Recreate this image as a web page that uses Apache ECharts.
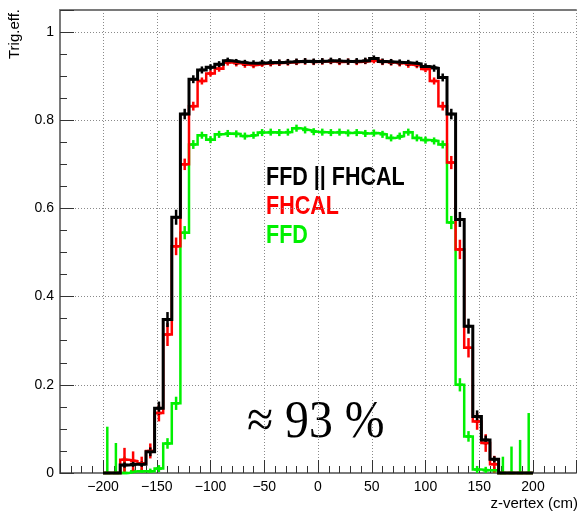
<!DOCTYPE html>
<html>
<head>
<meta charset="utf-8">
<script src="https://cdn.jsdelivr.net/npm/echarts@6/dist/echarts.min.js"></script>
<style>
  html, body { margin: 0; padding: 0; background: #fff; }
  #chart { width: 579px; height: 512px; }
</style>
</head>
<body>
<div id="chart"></div>
<script>
// Trigger efficiency vs z-vertex: 50 bins of 8 cm between -200 and 200 cm
const binLow = -200;
const binWidth = 8;

// FFD || FHCAL
const effOr = [
  0, 0, 0.018, 0.020, 0.020, 0.048, 0.147, 0.348, 0.580, 0.814,
  0.893, 0.914, 0.920, 0.927, 0.935, 0.932, 0.930, 0.929, 0.930, 0.931,
  0.931, 0.932, 0.933, 0.934, 0.933, 0.934, 0.935, 0.934, 0.933, 0.934,
  0.935, 0.940, 0.933, 0.932, 0.931, 0.930, 0.928, 0.922, 0.918, 0.897,
  0.814, 0.575, 0.333, 0.128, 0.075, 0.031, 0, 0, 0, 0
];
const errOr = [
  0, 0, 0.006, 0.006, 0.006, 0.010, 0.015, 0.017, 0.017, 0.012,
  0.009, 0.008, 0.007, 0.007, 0.007, 0.007, 0.007, 0.007, 0.007, 0.007,
  0.007, 0.007, 0.007, 0.007, 0.007, 0.007, 0.007, 0.007, 0.007, 0.007,
  0.007, 0.007, 0.007, 0.007, 0.007, 0.007, 0.007, 0.007, 0.008, 0.009,
  0.012, 0.017, 0.017, 0.014, 0.010, 0.007, 0, 0, 0, 0
];

// FHCAL
const effFhcal = [
  0, 0, 0.030, 0.027, 0.022, 0.050, 0.136, 0.314, 0.514, 0.700,
  0.832, 0.889, 0.906, 0.917, 0.931, 0.929, 0.926, 0.925, 0.928, 0.929,
  0.930, 0.931, 0.932, 0.933, 0.932, 0.933, 0.934, 0.932, 0.933, 0.932,
  0.934, 0.936, 0.932, 0.931, 0.929, 0.926, 0.925, 0.916, 0.889, 0.832,
  0.704, 0.507, 0.284, 0.117, 0.068, 0.020, 0, 0, 0, 0
];
const errFhcal = [
  0, 0, 0.027, 0.022, 0.015, 0.017, 0.019, 0.026, 0.020, 0.013,
  0.010, 0.008, 0.007, 0.007, 0.007, 0.007, 0.007, 0.007, 0.007, 0.007,
  0.007, 0.007, 0.007, 0.007, 0.007, 0.007, 0.007, 0.007, 0.007, 0.007,
  0.007, 0.007, 0.007, 0.007, 0.007, 0.007, 0.007, 0.007, 0.008, 0.010,
  0.015, 0.022, 0.022, 0.019, 0.020, 0.019, 0, 0, 0, 0
];

// FFD
const effFfd = [
  0, 0, 0, 0.004, 0.004, 0.004, 0.010, 0.067, 0.158, 0.545,
  0.745, 0.766, 0.756, 0.768, 0.770, 0.769, 0.764, 0.766, 0.772, 0.773,
  0.772, 0.773, 0.782, 0.778, 0.774, 0.773, 0.772, 0.773, 0.771, 0.772,
  0.770, 0.771, 0.768, 0.760, 0.764, 0.773, 0.760, 0.755, 0.753, 0.745,
  0.568, 0.200, 0.083, 0.008, 0.006, 0.006, 0, 0, 0, 0
];
const errFfd = [
  0.105, 0.068, 0.037, 0.006, 0.006, 0.006, 0.008, 0.012, 0.015, 0.015,
  0.010, 0.008, 0.008, 0.008, 0.008, 0.008, 0.008, 0.008, 0.008, 0.008,
  0.008, 0.008, 0.008, 0.008, 0.008, 0.008, 0.008, 0.008, 0.008, 0.008,
  0.008, 0.008, 0.008, 0.008, 0.008, 0.008, 0.008, 0.008, 0.008, 0.009,
  0.015, 0.015, 0.012, 0.008, 0.008, 0.008, 0.037, 0.060, 0.075, 0.136
];

const legendLabels = ['FFD || FHCAL', 'FHCAL', 'FFD'];
const noteText = '\u2248 93 %';

const colOr = '#000000';
const colFhcal = '#ff0000';
const colFfd = '#00f000';
const crossHalf = 0.35 * binWidth;

// histogram outline: flat segment over every bin, verticals at the edges
function stepPoints(vals) {
  const pts = [];
  vals.forEach(function (v, i) {
    const x0 = binLow + i * binWidth;
    pts.push([x0, v], [x0 + binWidth, v]);
  });
  return pts;
}

function errPoints(vals, errs) {
  return vals.map(function (v, i) {
    return [binLow + (i + 0.5) * binWidth, v, errs[i]];
  });
}

function errRender(color, width) {
  return function (params, api) {
    const c = api.value(0), v = api.value(1), e = api.value(2);
    if (!(e > 0)) return null;
    const top = api.coord([c, v + e]);
    const bot = api.coord([c, Math.max(0, v - e)]);
    const l = api.coord([c - crossHalf, v]);
    const r = api.coord([c + crossHalf, v]);
    const st = { stroke: color, lineWidth: width };
    return {
      type: 'group',
      children: [
        { type: 'line', shape: { x1: top[0], y1: top[1], x2: bot[0], y2: bot[1] }, style: st },
        { type: 'line', shape: { x1: l[0], y1: l[1], x2: r[0], y2: r[1] }, style: st }
      ]
    };
  };
}

function histSeries(vals, color, width) {
  return {
    type: 'line', xAxisIndex: 0, yAxisIndex: 0,
    data: stepPoints(vals), showSymbol: false, clip: false,
    lineStyle: { color: color, width: width, join: 'miter' },
    emphasis: { disabled: true }, animation: false
  };
}

function errSeries(vals, errs, color, width) {
  return {
    type: 'custom', xAxisIndex: 0, yAxisIndex: 0,
    data: errPoints(vals, errs), clip: false,
    encode: { x: 0, y: 1 },
    renderItem: errRender(color, width), animation: false
  };
}

const font = 'Liberation Sans, Arial, Helvetica, sans-serif';
const gridLine = { show: true, lineStyle: { color: '#8a8a8a', width: 1, type: [1, 2] } };
const frameLine = { show: true, onZero: false, lineStyle: { color: '#7a7a7a', width: 2 } };

function fmtX(v) {
  if (Math.abs(v) % 50 !== 0) return '';
  return v < 0 ? '\u2212' + (-v) : String(v);
}
function fmtY(v) {
  const r = Math.round(v * 100) / 100;
  if (Math.abs(r * 5 - Math.round(r * 5)) > 1e-6) return '';
  return String(r);
}

const chart = echarts.init(document.getElementById('chart'), null, { renderer: 'canvas' });
chart.setOption({
  animation: false,
  backgroundColor: '#ffffff',
  grid: { left: 60, top: 10, width: 520, height: 463 },
  xAxis: [
    {
      type: 'value', min: -240, max: 240, splitNumber: 10, minInterval: 50, maxInterval: 50,
      position: 'bottom',
      axisLine: frameLine,
      axisTick: { show: true, inside: true, length: 13, lineStyle: { color: '#333', width: 1 } },
      axisLabel: { formatter: fmtX, color: '#000', fontSize: 14, fontFamily: font, margin: 7 },
      splitLine: gridLine
    },
    {
      type: 'value', min: -240, max: 240, interval: 10, position: 'bottom',
      axisLine: { show: false }, axisLabel: { show: false }, splitLine: { show: false },
      axisTick: { show: true, inside: true, length: 7, lineStyle: { color: '#333', width: 1 } }
    },
    {
      // upper edge of the frame
      type: 'value', min: -240, max: 240, position: 'top',
      axisLine: frameLine, axisTick: { show: false }, axisLabel: { show: false }, splitLine: { show: false }
    }
  ],
  yAxis: [
    {
      type: 'value', min: 0, max: 1.05, interval: 0.2, position: 'left',
      axisLine: frameLine,
      axisTick: { show: true, inside: true, length: 14, lineStyle: { color: '#333', width: 1 } },
      axisLabel: { formatter: fmtY, color: '#000', fontSize: 14, fontFamily: font, margin: 6 },
      splitLine: gridLine
    },
    {
      type: 'value', min: 0, max: 1.05, interval: 0.05, position: 'left',
      axisLine: { show: false, onZero: false }, axisLabel: { show: false }, splitLine: { show: false },
      axisTick: { show: true, inside: true, length: 7, lineStyle: { color: '#333', width: 1 } }
    }
  ],
  series: [
    histSeries(effFfd, colFfd, 2.5),
    errSeries(effFfd, errFfd, colFfd, 2.5),
    histSeries(effFhcal, colFhcal, 2.5),
    errSeries(effFhcal, errFhcal, colFhcal, 2.5),
    histSeries(effOr, colOr, 3),
    errSeries(effOr, errOr, colOr, 2.5)
  ],
  graphic: [
    {
      type: 'text', x: 15, y: 9, rotation: Math.PI / 2,
      style: { text: 'Trig.eff.', font: '15px ' + font, fill: '#000', align: 'right', verticalAlign: 'middle' }
    },
    {
      type: 'text', x: 578, y: 504,
      style: { text: 'z-vertex (cm)', font: '15px ' + font, fill: '#000', align: 'right', verticalAlign: 'middle' }
    },
    {
      type: 'text', x: 266, y: 178, scaleX: 0.86,
      style: { text: legendLabels[0], font: 'bold 25px ' + font, fill: colOr, align: 'left', verticalAlign: 'middle' }
    },
    {
      type: 'text', x: 266, y: 207, scaleX: 0.86,
      style: { text: legendLabels[1], font: 'bold 25px ' + font, fill: colFhcal, align: 'left', verticalAlign: 'middle' }
    },
    {
      type: 'text', x: 266, y: 236, scaleX: 0.86,
      style: { text: legendLabels[2], font: 'bold 25px ' + font, fill: colFfd, align: 'left', verticalAlign: 'middle' }
    },
    {
      type: 'text', x: 247, y: 423, scaleX: 0.9,
      style: { text: noteText, font: '53px Liberation Serif, Times New Roman, serif', fill: '#000', align: 'left', verticalAlign: 'middle' }
    }
  ]
});
</script>
</body>
</html>
